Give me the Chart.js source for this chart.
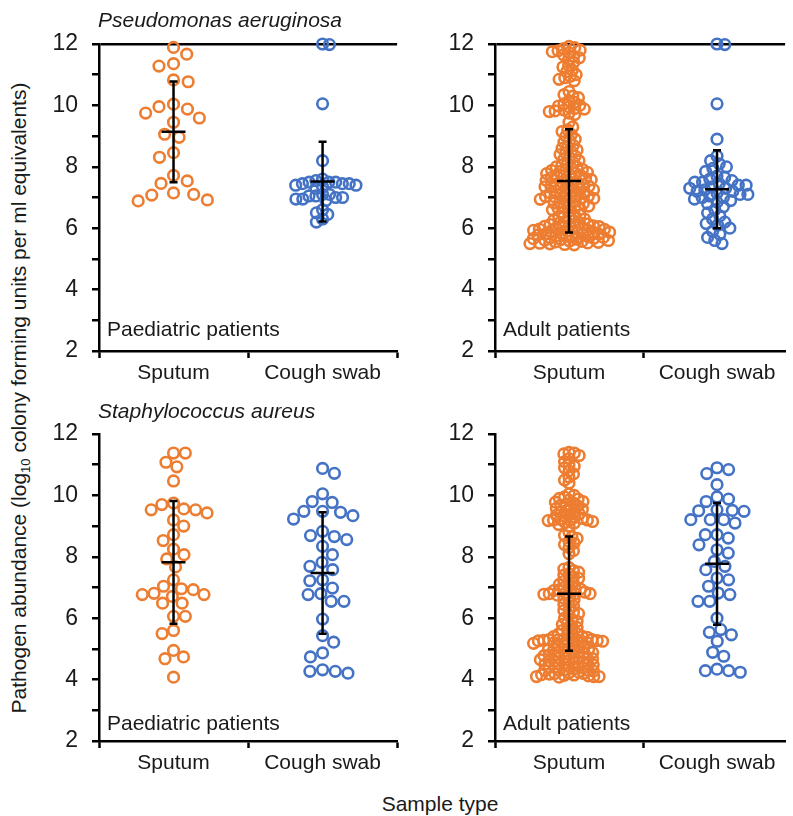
<!DOCTYPE html>
<html>
<head>
<meta charset="utf-8">
<script src="https://cdn.jsdelivr.net/npm/chart.js@4.4.1/dist/chart.umd.min.js"></script>
<style>
  body{margin:0;background:#fff;width:793px;height:816px;position:relative;overflow:hidden;
       font-family:"Liberation Sans",Arial,sans-serif;color:#1a1a1a}
  .panel{position:absolute}
  .txt{position:absolute;white-space:nowrap;font-size:21px;line-height:1}
  .it{font-style:italic}
  #ytitle{position:absolute;left:18px;top:398px;font-size:21px;line-height:1;white-space:nowrap;
          transform:translate(-50%,-50%) rotate(-90deg)}
  #ytitle sub{font-size:13px;vertical-align:-4px;line-height:0}
</style>
</head>
<body>

<div class="panel" style="left:39px;top:0"><canvas id="paPaed" width="366" height="392"></canvas></div>
<div class="panel" style="left:435px;top:0"><canvas id="paAdult" width="358" height="392"></canvas></div>
<div class="panel" style="left:39px;top:390px"><canvas id="saPaed" width="366" height="392"></canvas></div>
<div class="panel" style="left:435px;top:390px"><canvas id="saAdult" width="358" height="392"></canvas></div>

<div class="txt it" style="left:98px;top:9px">Pseudomonas aeruginosa</div>
<div class="txt it" style="left:98px;top:400px">Staphylococcus aureus</div>
<div class="txt" style="left:107px;top:318px">Paediatric patients</div>
<div class="txt" style="left:503px;top:318px">Adult patients</div>
<div class="txt" style="left:107px;top:712px">Paediatric patients</div>
<div class="txt" style="left:503px;top:712px">Adult patients</div>
<div class="txt" style="left:440px;top:793px;transform:translateX(-50%)">Sample type</div>
<div id="ytitle">Pathogen abundance (log<sub>10</sub> colony forming units per ml equivalents)</div>

<script>
const categories = ["Sputum", "Cough swab"];
const yTicks = [2, 3, 4, 5, 6, 7, 8, 9, 10, 11, 12];

// P. aeruginosa, paediatric
const paPaedSputum = [11.89, 11.67, 11.36, 11.28, 10.83, 10.77, 10.04, 9.96, 9.88, 9.75, 9.59, 9.45,
  9.06, 8.96, 8.46, 8.31, 7.72, 7.54, 7.46, 7.15, 7.1, 7.08, 6.92, 6.89];
const paPaedCough = [12.0, 11.98, 10.05, 8.2, 7.6, 7.55, 7.5, 7.5, 7.45, 7.45, 7.4, 7.4, 7.35, 7.3,
  7.45, 7.5, 7.1, 7.05, 7.0, 7.0, 6.95, 6.95, 7.05, 7.1, 6.9, 6.6, 6.5, 6.45, 6.3, 6.2];
const paPaedMean = [9.14, 7.52];
const paPaedSd = [1.64, 1.3];

// P. aeruginosa, adult
const paAdultSputum = [11.92, 11.88, 11.85, 11.8, 11.78, 11.75, 11.72, 11.65, 11.6, 11.55, 11.5, 11.4,
  11.3, 11.25, 11.15, 11.1, 11.0, 10.95, 10.9, 10.85, 10.8,
  10.45, 10.35, 10.3, 10.25, 10.15, 10.1, 10.05, 10.0, 9.98, 9.95, 9.9, 9.88, 9.85, 9.82, 9.8, 9.75, 9.7,
  9.45, 9.3, 9.2, 9.15, 9.05, 9.0, 8.9, 8.85, 8.8, 8.7, 8.65, 8.6, 8.55, 8.5, 8.45, 8.4, 8.35, 8.3,
  8.25, 8.2, 8.15, 8.1, 8.05, 8.0, 8.0,
  7.95, 7.92, 7.9, 7.88, 7.85, 7.82, 7.8, 7.78, 7.75, 7.72, 7.7, 7.68, 7.65, 7.62, 7.6, 7.58,
  7.56, 7.53, 7.5, 7.47, 7.44, 7.42, 7.4, 7.38, 7.37,
  7.35, 7.32, 7.3, 7.28, 7.25, 7.22, 7.2, 7.18, 7.15, 7.12, 7.1, 7.08, 7.05, 7.03, 7.02, 7.0,
  6.98, 6.97, 6.94, 6.9, 6.88, 6.85, 6.82, 6.8, 6.75, 6.72, 6.7, 6.68, 6.65, 6.62, 6.6, 6.55, 6.5,
  6.45, 6.42, 6.38, 6.34, 6.3, 6.27, 6.24, 6.21, 6.18, 6.16, 6.14, 6.12, 6.1,
  6.08, 6.06, 6.05, 6.03, 6.02, 6.0, 5.99, 5.97, 5.96, 5.94, 5.93, 5.91, 5.9, 5.88, 5.87, 5.85, 5.84,
  5.82, 5.81, 5.79, 5.78, 5.76, 5.75, 5.73, 5.72, 5.7, 5.69, 5.67, 5.66, 5.64, 5.63, 5.61, 5.6, 5.58,
  5.57, 5.55, 5.54, 5.52, 5.51, 5.5, 5.49, 5.47, 5.46];
const paAdultCough = [12.0, 11.98, 10.05, 8.9, 8.35, 8.2, 8.1, 8.0, 7.95, 7.85, 7.7, 7.65, 7.6, 7.55,
  7.5, 7.5, 7.45, 7.4, 7.4, 7.35, 7.3, 7.3, 7.25, 7.2, 7.2, 7.15, 7.1, 7.1, 7.05, 7.0, 7.0, 6.95,
  6.9, 6.85, 6.8, 6.7, 6.6, 6.5, 6.4, 6.3, 6.2, 6.15, 6.1, 6.0, 5.9, 5.8, 5.7, 5.6, 5.5];
const paAdultMean = [7.54, 7.27];
const paAdultSd = [1.68, 1.27];

// S. aureus, paediatric
const saPaedSputum = [11.38, 11.38, 11.08, 10.93, 10.47, 9.75, 9.7, 9.56, 9.53, 9.53, 9.43, 9.2, 9.0,
  8.72, 8.53, 8.25, 8.07, 7.93, 7.67, 7.25, 7.04, 6.96, 6.93, 6.81, 6.77, 6.77, 6.71, 6.49, 6.49,
  6.06, 6.06, 5.6, 5.5, 4.95, 4.74, 4.68, 4.08];
const saPaedCough = [10.88, 10.72, 10.05, 9.8, 9.77, 9.48, 9.48, 9.45, 9.34, 9.23, 8.83, 8.69, 8.66,
  8.56, 8.34, 8.07, 7.82, 7.69, 7.58, 7.25, 7.22, 6.98, 6.8, 6.77, 6.55, 6.55, 5.97, 5.43, 5.22,
  4.87, 4.74, 4.32, 4.27, 4.27, 4.21];
const saPaedMean = [7.82, 7.47];
const saPaedSd = [2.0, 1.98];

// S. aureus, adult
const saAdultSputum = [11.4, 11.38, 11.35, 11.3, 11.2, 11.1, 11.0, 10.95, 10.9, 10.8, 10.7, 10.6, 10.5, 10.4,
  10.05, 10.0, 9.95, 9.9, 9.88, 9.85, 9.8, 9.78, 9.75, 9.7, 9.68, 9.65, 9.6, 9.58, 9.55, 9.5, 9.48,
  9.45, 9.4, 9.38, 9.35, 9.3, 9.28, 9.25, 9.22, 9.2, 9.2, 9.2, 9.18, 9.15, 9.12, 9.1, 9.05, 9.0,
  8.8, 8.7, 8.65, 8.6, 8.5, 8.45, 8.4, 8.3, 8.2, 8.1,
  7.65, 7.6, 7.55, 7.5, 7.45, 7.4, 7.35, 7.3, 7.25, 7.2, 7.15, 7.1, 7.05, 7.0, 6.98, 6.95, 6.92,
  6.9, 6.88, 6.85, 6.82, 6.8, 6.8, 6.8, 6.78, 6.75, 6.7, 6.65, 6.6, 6.5, 6.45, 6.4, 6.3, 6.25,
  6.2, 6.15, 6.1, 6.0,
  5.95, 5.9, 5.85, 5.8, 5.75, 5.7, 5.65, 5.6, 5.55, 5.5, 5.48, 5.45, 5.42, 5.4, 5.38, 5.35, 5.32,
  5.3, 5.3, 5.3, 5.3, 5.28, 5.27, 5.26, 5.25, 5.24, 5.22, 5.2, 5.2, 5.18, 5.15, 5.12, 5.1, 5.08,
  5.05, 5.02, 5.0, 5.0, 4.98, 4.95, 4.92, 4.9, 4.9, 4.88, 4.85, 4.82, 4.8, 4.8, 4.78, 4.75, 4.72,
  4.7, 4.7, 4.68, 4.65, 4.62, 4.6, 4.6, 4.58, 4.55, 4.52, 4.5, 4.5, 4.48, 4.45, 4.42, 4.4, 4.4,
  4.38, 4.35, 4.32, 4.3, 4.3, 4.28, 4.25, 4.22, 4.2, 4.2, 4.18, 4.16, 4.15, 4.14, 4.12, 4.1, 4.1,
  4.1, 4.08, 4.3, 4.5, 4.7];
const saAdultCough = [10.9, 10.84, 10.71, 10.35, 9.95, 9.88, 9.8, 9.53, 9.51, 9.5, 9.48, 9.21, 9.21,
  9.21, 9.1, 8.72, 8.72, 8.61, 8.39, 8.23, 8.12, 7.85, 7.69, 7.58, 7.31, 7.25, 7.04, 6.82, 6.77,
  6.55, 6.55, 6.0, 5.63, 5.54, 5.46, 5.25, 4.89, 4.76, 4.34, 4.29, 4.29, 4.24];
const saAdultMean = [6.8, 7.77];
const saAdultSd = [1.86, 1.98];

const ORANGE = "#ED7D31";
const BLUE = "#4472C4";
const FONT = "'Liberation Sans', Arial, sans-serif";
const PX_X = 151.5;   // px per category unit
const PX_Y = 30.7;    // px per log unit

// simple beeswarm: each point goes to the free spot closest to the centre line
function swarm(vals, center, d){
    const placed = [];
    const out = new Array(vals.length);
    const order = vals.map((v, i) => i).sort((a, b) => vals[b] - vals[a]);
    let side = 1;
    order.forEach(i => {
        const y = vals[i] * PX_Y;
        const blocked = [];
        placed.forEach(p => {
            const dy = y - p.y;
            if (Math.abs(dy) < d) {
                const w = Math.sqrt(d * d - dy * dy);
                blocked.push([p.x - w, p.x + w]);
            }
        });
        const cands = [0];
        blocked.forEach(b => cands.push(b[0], b[1]));
        cands.sort((a, b) => Math.abs(a) - Math.abs(b) || side * (b - a));
        let x = 0;
        for (const c of cands) {
            if (blocked.every(b => c <= b[0] + 1e-6 || c >= b[1] - 1e-6)) { x = c; break; }
        }
        if (x !== 0) side = -side;
        placed.push({x, y});
        out[i] = {x: center + x / PX_X, y: vals[i]};
    });
    return out;
}

const errorBars = {
    id: "errorBars",
    afterDatasetsDraw(chart){
        const o = chart.options.plugins.errorBars;
        const {ctx, scales: {x, y}} = chart;
        ctx.save();
        ctx.strokeStyle = "#000";
        ctx.lineWidth = 2.5;
        o.mean.forEach((m, i) => {
            const cx = x.getPixelForValue(i + 1);
            const yt = y.getPixelForValue(m + o.sd[i]);
            const yb = y.getPixelForValue(m - o.sd[i]);
            const ym = y.getPixelForValue(m);
            ctx.beginPath();
            ctx.moveTo(cx, yt); ctx.lineTo(cx, yb);
            ctx.moveTo(cx - 4, yt); ctx.lineTo(cx + 4, yt);
            ctx.moveTo(cx - 4, yb); ctx.lineTo(cx + 4, yb);
            ctx.moveTo(cx - 12, ym); ctx.lineTo(cx + 12, ym);
            ctx.stroke();
        });
        ctx.restore();
    }
};

function makePanel(id, sputum, cough, mean, sd, cfg){
    const clear = "rgba(0,0,0,0)";
    return new Chart(document.getElementById(id), {
        type: "scatter",
        data: {
            datasets: [
                {data: swarm(sputum, 1, cfg.spread[0]), borderColor: ORANGE, clip: false},
                {data: swarm(cough, 2, cfg.spread[1]), borderColor: BLUE, clip: false}
            ]
        },
        options: {
            responsive: false,
            animation: false,
            layout: {padding: {top: 44, right: cfg.padRight, left: 0, bottom: 0}},
            elements: {point: {radius: 5.3, borderWidth: 2.6, backgroundColor: clear, hoverRadius: 5.3}},
            plugins: {
                legend: {display: false},
                tooltip: {enabled: false},
                errorBars: {mean, sd}
            },
            scales: {
                x: {
                    type: "linear", min: 0.5, max: cfg.xMax,
                    afterBuildTicks: s => { s.ticks = [0.5, 1, 1.5, 2, 2.5].filter(v => v <= cfg.xMax).map(v => ({value: v})); },
                    afterFit: s => { s.height = 41; },
                    border: {color: "#000", width: 2.5},
                    grid: {
                        drawOnChartArea: false, tickLength: 7, tickWidth: 2.5,
                        tickColor: c => (c.tick && (c.tick.value === 1 || c.tick.value === 2)) ? clear : "#000"
                    },
                    ticks: {
                        autoSkip: false, maxRotation: 0, padding: 3, color: "#1a1a1a",
                        font: {family: FONT, size: 21},
                        callback: v => v === 1 ? categories[0] : v === 2 ? categories[1] : ""
                    }
                },
                y: {
                    min: 2, max: 12,
                    afterBuildTicks: s => { s.ticks = yTicks.map(v => ({value: v})); },
                    afterFit: s => { s.width = 60; },
                    border: {color: "#000", width: 2.5},
                    grid: {
                        lineWidth: 2.5, tickLength: 7, tickWidth: 2.5, tickColor: "#000",
                        color: c => (cfg.topLine && c.tick && c.tick.value === 12) ? "#000" : clear
                    },
                    ticks: {
                        padding: 14, color: "#1a1a1a",
                        font: {family: FONT, size: 23},
                        callback: v => v % 2 === 0 ? v : ""
                    }
                }
            }
        },
        plugins: [errorBars]
    });
}

makePanel("paPaed", paPaedSputum, paPaedCough, paPaedMean, paPaedSd,
    {xMax: 2.5, padRight: 3, topLine: true, spread: [15, 7]});
makePanel("paAdult", paAdultSputum, paAdultCough, paAdultMean, paAdultSd,
    {xMax: 2.46, padRight: 0, topLine: true, spread: [6, 8]});
makePanel("saPaed", saPaedSputum, saPaedCough, saPaedMean, saPaedSd,
    {xMax: 2.5, padRight: 3, topLine: false, spread: [12, 13]});
makePanel("saAdult", saAdultSputum, saAdultCough, saAdultMean, saAdultSd,
    {xMax: 2.46, padRight: 0, topLine: false, spread: [5.5, 12]});
</script>
</body>
</html>
